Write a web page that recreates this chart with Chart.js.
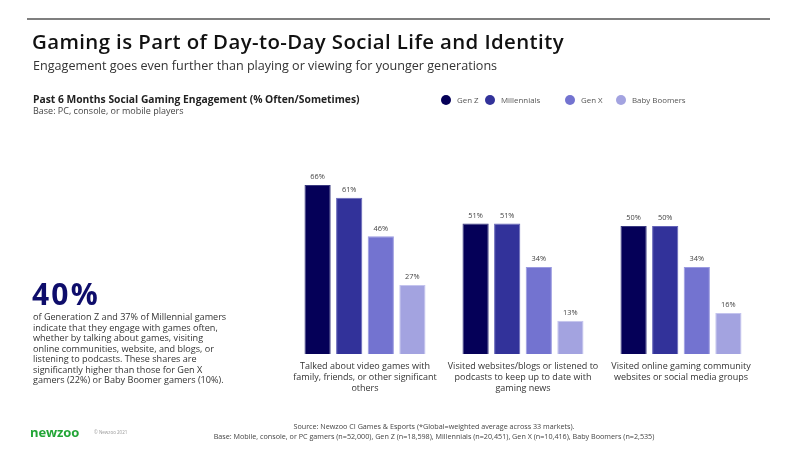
<!DOCTYPE html>
<html>
<head>
<meta charset="utf-8">
<script src="https://cdn.jsdelivr.net/npm/chart.js@4"></script>
<style>
  html, body { margin: 0; padding: 0; background: #fff; }
  #wrap { position: relative; width: 800px; height: 450px; overflow: hidden; font-family: "Open Sans", sans-serif; color: #222; }
  #c { position: absolute; left: 0; top: 0; }
  .t { position: absolute; white-space: nowrap; }
  #rule { position: absolute; left: 27px; top: 18px; width: 743px; height: 2px; background: #7f7f7f; }
  #title { left: 32px; top: 27px; font-size: 20.4px; font-weight: 600; color: #111; letter-spacing: 0.4px; }
  #sub { left: 33px; top: 57px; font-size: 12.6px; color: #333; }
  #ctitle { left: 33px; top: 92px; font-size: 10.3px; font-weight: 700; color: #222; }
  #cbase { left: 33px; top: 104px; font-size: 9px; color: #444; }
  #legend { position: absolute; left: 441px; top: 93px; height: 14px; font-size: 7.9px; color: #555; }
  #legend span.item { position: absolute; top: 0; white-space: nowrap; line-height: 14px; }
  #legend span.dot { display: inline-block; width: 10px; height: 10px; border-radius: 50%; vertical-align: middle; margin-right: 6px; margin-top: -2px; }
  #big { left: 32px; top: 273px; font-size: 30px; font-weight: 700; color: #0e0d6b; letter-spacing: 2.2px; }
  #para { position: absolute; left: 33px; top: 312px; width: 260px; font-size: 9.1px; line-height: 10.5px; color: #333; white-space: nowrap; }
  #logo { left: 30px; top: 423px; font-size: 13px; font-weight: 700; color: #23a637; letter-spacing: -0.1px; }
  #copy { left: 94px; top: 429px; font-size: 4.5px; color: #999; }
  #src { position: absolute; left: 134px; width: 600px; top: 421px; text-align: center; font-size: 7.2px; line-height: 10px; color: #444; }
</style>
</head>
<body>
<div id="wrap">
  <canvas id="c" width="800" height="450"></canvas>
  <div id="rule"></div>
  <div class="t" id="title">Gaming is Part of Day-to-Day Social Life and Identity</div>
  <div class="t" id="sub">Engagement goes even further than playing or viewing for younger generations</div>
  <div class="t" id="ctitle">Past 6 Months Social Gaming Engagement (% Often/Sometimes)</div>
  <div class="t" id="cbase">Base: PC, console, or mobile players</div>
  <div id="legend"></div>
  <div class="t" id="big">40%</div>
  <div id="para">of Generation Z and 37% of Millennial gamers<br>indicate that they engage with games often,<br>whether by talking about games, visiting<br>online communities, website, and blogs, or<br>listening to podcasts. These shares are<br>significantly higher than those for Gen X<br>gamers (22%) or Baby Boomer gamers (10%).</div>
  <div class="t" id="logo">newzoo</div>
  <div class="t" id="copy">© Newzoo 2021</div>
  <div id="src">Source: Newzoo CI Games &amp; Esports (*Global=weighted average across 33 markets).<br>Base: Mobile, console, or PC gamers (n=52,000), Gen Z (n=18,598), Millennials (n=20,451), Gen X (n=10,416), Baby Boomers (n=2,535)</div>
</div>
<script>
const categories = [
  ["Talked about video games with", "family, friends, or other significant", "others"],
  ["Visited websites/blogs or listened to", "podcasts to keep up to date with", "gaming news"],
  ["Visited online gaming community", "websites or social media groups"]
];
const seriesNames = ["Gen Z", "Millennials", "Gen X", "Baby Boomers"];
const genZ = [66, 51, 50];
const millennials = [61, 51, 50];
const genX = [46, 34, 34];
const babyBoomers = [27, 13, 16];
const seriesColors = ["#050058", "#32329a", "#7373d0", "#a3a3e0"];
const seriesBorders = ["#3a3a80", "#6464b8", "#9a9ae0", "#c4c4ee"];
const legendX = [0, 44, 124, 175];

const values = [genZ, millennials, genX, babyBoomers];

// legend
const lg = document.getElementById('legend');
seriesNames.forEach((n, i) => {
  const s = document.createElement('span');
  s.className = 'item';
  s.style.left = legendX[i] + 'px';
  s.innerHTML = '<span class="dot" style="background:' + seriesColors[i] + '"></span>' + n;
  lg.appendChild(s);
});

const valueLabels = {
  id: 'valueLabels',
  afterDatasetsDraw(chart) {
    const ctx = chart.ctx;
    ctx.save();
    ctx.font = '7.4px "Open Sans", sans-serif';
    ctx.fillStyle = '#444';
    ctx.textAlign = 'center';
    ctx.textBaseline = 'bottom';
    chart.data.datasets.forEach((ds, di) => {
      chart.getDatasetMeta(di).data.forEach((bar, i) => {
        ctx.fillText(ds.data[i] + '%', bar.x, bar.y - 4);
      });
    });
    ctx.restore();
  }
};

new Chart(document.getElementById('c'), {
  type: 'bar',
  data: {
    labels: categories,
    datasets: seriesNames.map((n, i) => ({
      label: n,
      data: values[i],
      backgroundColor: seriesColors[i],
      borderColor: seriesBorders[i],
      borderWidth: 1,
      categoryPercentage: 0.8,
      barPercentage: 0.83
    }))
  },
  options: {
    responsive: false,
    animation: false,
    devicePixelRatio: 1,
    layout: { padding: { left: 286, right: 40, top: 98, bottom: 49 } },
    plugins: { legend: { display: false }, tooltip: { enabled: false } },
    scales: {
      y: { display: false, min: 0, max: 100 },
      x: {
        grid: { display: false, drawTicks: false },
        border: { display: false },
        ticks: {
          autoSkip: false, maxRotation: 0, padding: 7,
          color: '#333',
          font: { family: '"Open Sans", sans-serif', size: 9, lineHeight: 1.22 }
        }
      }
    }
  },
  plugins: [valueLabels]
});
</script>
</body>
</html>
